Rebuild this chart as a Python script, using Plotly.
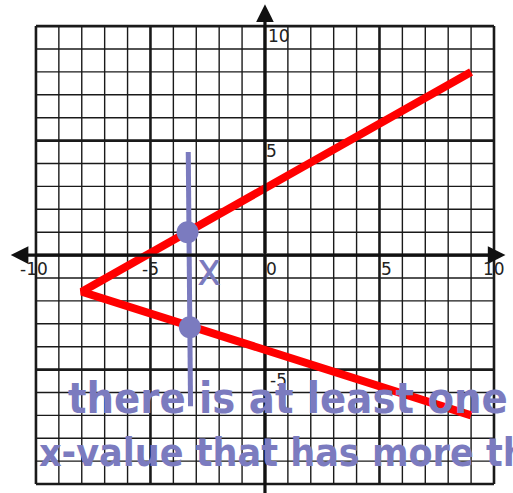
import plotly.graph_objects as go

# red graph: vertex and the two branch ends
red_x = [9, -8, 9]
red_y = [8, -1.6, -7]

# blue vertical line test and the two intersection points
vline_x = [-3.35, -3.25]
vline_y = [4.5, -6.6]
dot_x = [-3.38, -3.28]
dot_y = [1.0, -3.15]

# tick labels
xtick_vals = [-10, -5, 0, 5, 10]
xtick_text = ["-10", "-5", "0", "5", "10"]
ytick_vals = [10, 5, -5, -10]
ytick_text = ["10", "5", "-5", "-10"]

# handwritten note
note_lines = ["there is at least one", "x-value that has more th", "one y-value"]

blue = "#7b7bbf"
fig = go.Figure()

# grid
shapes = []
for v in range(-10, 11):
    w = 2.6 if v % 5 == 0 else 1.4
    shapes.append(dict(type="line", x0=v, x1=v, y0=-10, y1=10, xref="x", yref="y",
                       line=dict(color="#1a1a1a", width=w), layer="below"))
    shapes.append(dict(type="line", x0=-10, x1=10, y0=v, y1=v, xref="x", yref="y",
                       line=dict(color="#1a1a1a", width=w), layer="below"))

# axes with arrows
ann = []
for tip in [(-11.1, 0), (10.5, 0), (0, 10.95)]:
    ann.append(dict(x=tip[0], y=tip[1], ax=0, ay=0, xref="x", yref="y", axref="x", ayref="y",
                    showarrow=True, arrowhead=2, arrowsize=1.1, arrowwidth=3.2, arrowcolor="#111", text=""))
fig.add_trace(go.Scatter(x=[0, 0], y=[-10.6, 0], mode="lines", line=dict(color="#111", width=3.2),
                         hoverinfo="skip", showlegend=False))

for v, t in zip(xtick_vals, xtick_text):
    off = 0.3 if v in (0, 5) else (-0.1 if v == -10 else 0)
    ann.append(dict(x=v + off, y=-0.6, text=t, showarrow=False, xref="x", yref="y",
                    font=dict(family="DejaVu Sans", size=17, color="#222")))
for v, t in zip(ytick_vals, ytick_text):
    off = 0.3 if v == 5 else 0.6
    ann.append(dict(x=off, y=v - 0.45, text=t, showarrow=False, xref="x", yref="y",
                    font=dict(family="DejaVu Sans", size=17, color="#222")))

fig.add_trace(go.Scatter(x=red_x, y=red_y, mode="lines", line=dict(color="#ff0000", width=8),
                         hoverinfo="skip", showlegend=False))
fig.add_trace(go.Scatter(x=vline_x, y=vline_y, mode="lines", line=dict(color=blue, width=5),
                         hoverinfo="skip", showlegend=False))
fig.add_trace(go.Scatter(x=dot_x, y=dot_y, mode="markers", marker=dict(color=blue, size=22),
                         hoverinfo="skip", showlegend=False))

hand = "DejaVu Sans Condensed, Liberation Sans Narrow, sans-serif"
ann.append(dict(x=-2.45, y=-0.6, text="x", showarrow=False, xref="x", yref="y",
                font=dict(family=hand, size=46, color=blue)))
ann.append(dict(x=-8.7, y=-6.25, text="<b>" + note_lines[0] + "</b>", showarrow=False, xref="x", yref="y",
                xanchor="left", font=dict(family=hand, size=43, color=blue)))
ann.append(dict(x=-9.95, y=-8.6, text="<b>" + note_lines[1] + "</b>", showarrow=False, xref="x", yref="y",
                xanchor="left", font=dict(family=hand, size=39, color=blue)))
ann.append(dict(x=-8.5, y=-10.25, text="<b>" + note_lines[2] + "</b>", showarrow=False, xref="x", yref="y",
                xanchor="left", yanchor="top", font=dict(family=hand, size=40, color=blue)))

fig.update_layout(width=513, height=493, margin=dict(l=0, r=0, t=0, b=0),
                  paper_bgcolor="white", plot_bgcolor="white", shapes=shapes, annotations=ann,
                  xaxis=dict(range=[-11.57, 10.83], visible=False),
                  yaxis=dict(range=[-10.39, 11.14], visible=False))
fig.write_html("out.html", config={"displayModeBar": False},
               post_script="document.body.style.margin='0px';")
